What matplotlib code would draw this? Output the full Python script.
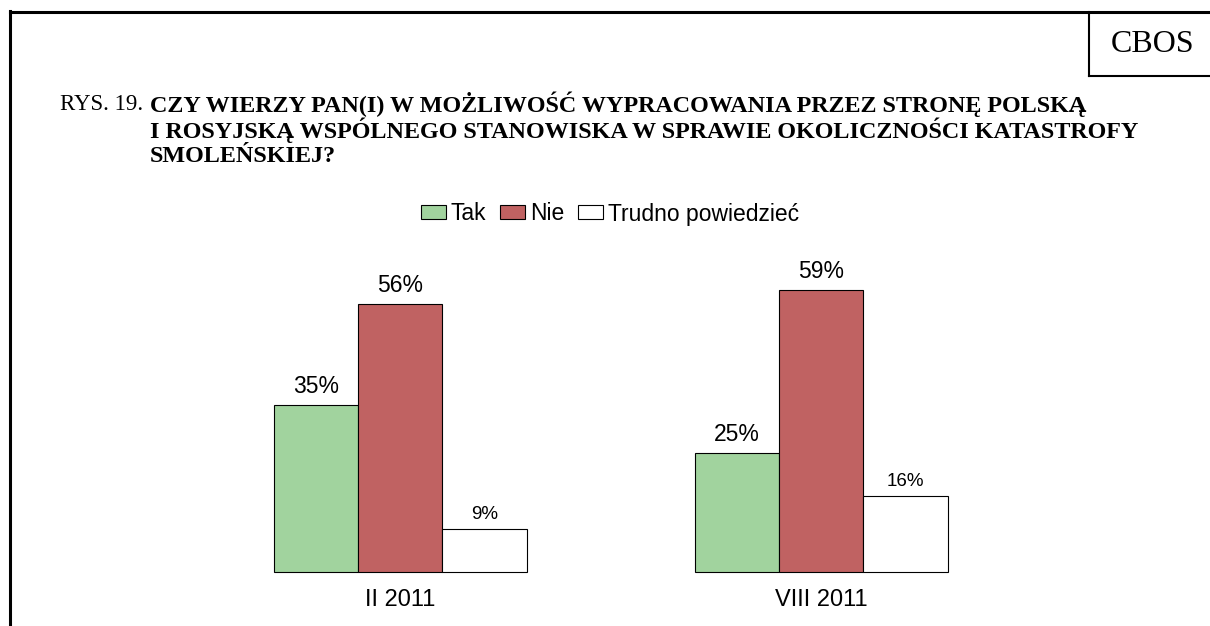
import matplotlib.pyplot as plt
import numpy as np
from matplotlib.patches import Patch

# data
periods = ['II 2011', 'VIII 2011']
answers = ['Tak', 'Nie', 'Trudno powiedzieć']
tak = [35, 25]
nie = [56, 59]
trudno = [9, 16]

colors = ['#A1D39E', '#C06262', '#FFFFFF']
W, H = 1210, 626

fig = plt.figure(figsize=(W / 100, H / 100), dpi=100)

# outer frame (left and top lines) and CBOS box
fig.add_artist(plt.Line2D([10 / W, 10 / W], [0, 1 - 11 / H], color='black', lw=2.2))
fig.add_artist(plt.Line2D([10 / W, 1], [1 - 12 / H, 1 - 12 / H], color='black', lw=2.2))
fig.add_artist(plt.Line2D([1089 / W, 1089 / W], [1 - 12 / H, 1 - 76 / H], color='black', lw=1.5))
fig.add_artist(plt.Line2D([1089 / W, 1], [1 - 76 / H, 1 - 76 / H], color='black', lw=1.5))
fig.text(1153 / W, 1 - 44 / H, 'CBOS', family='Liberation Serif', fontsize=23,
         ha='center', va='center')

# title
fig.text(60 / W, 1 - 104 / H, 'RYS. 19.', family='Liberation Serif', fontsize=16.5,
         ha='left', va='center')
title_lines = ['CZY WIERZY PAN(I) W MOŻLIWOŚĆ WYPRACOWANIA PRZEZ STRONĘ POLSKĄ',
               'I ROSYJSKĄ WSPÓLNEGO STANOWISKA W SPRAWIE OKOLICZNOŚCI KATASTROFY',
               'SMOLEŃSKIEJ?']
for i, line in enumerate(title_lines):
    fig.text(150 / W, 1 - (104 + 26 * i) / H, line, family='Liberation Serif',
             fontsize=17.4, fontweight='bold', ha='left', va='center')

# bars
px_per_unit = 4.78
ylim_top = 70
ax = fig.add_axes([274 / W, 1 - 572 / H, 673.6 / W, ylim_top * px_per_unit / H])
x = np.arange(len(periods))
w = 0.2
series = [tak, nie, trudno]
for j, vals in enumerate(series):
    bars = ax.bar(x + (j - 1) * w, vals, w, color=colors[j], edgecolor='black',
                  linewidth=0.8, label=answers[j], clip_on=False)
    small = j == 2
    for b, v in zip(bars, vals):
        ax.annotate(f'{v}%', (b.get_x() + b.get_width() / 2, v),
                    xytext=(0, 4 if small else 5), textcoords='offset points',
                    ha='center', va='bottom', fontsize=13.5 if small else 16.5,
                    family='Liberation Sans')

ax.set_xlim(-0.3, 1.3)
ax.set_ylim(0, ylim_top)
ax.set_xticks(x)
ax.set_xticklabels(periods, fontsize=17, family='Liberation Sans')
ax.tick_params(axis='x', length=0, pad=12)
ax.set_yticks([])
for s in ax.spines.values():
    s.set_visible(False)
ax.patch.set_alpha(0)

handles = [Patch(facecolor=c, edgecolor='black', linewidth=0.8) for c in colors]
fig.legend(handles, answers, loc='center', bbox_to_anchor=(610 / W, 1 - 214 / H),
           ncol=3, frameon=False, prop={'family': 'Liberation Sans', 'size': 16.5},
           handlelength=1.1, handleheight=0.55, handletextpad=0.2, columnspacing=0.6)

fig.savefig('out.png', dpi=100)
